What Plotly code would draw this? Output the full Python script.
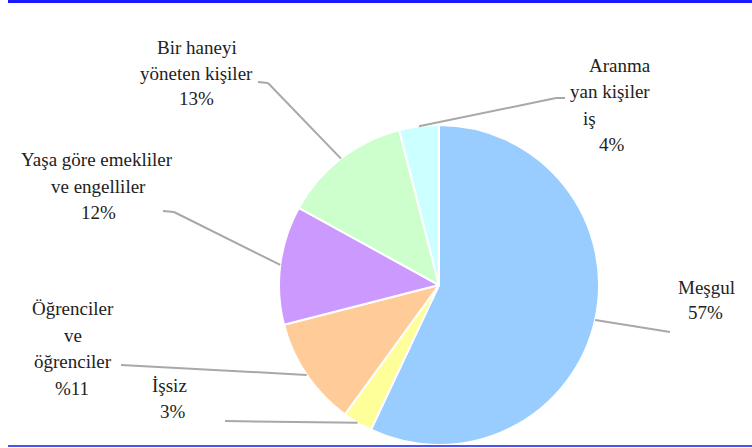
import math
import plotly.graph_objects as go

# ---- data ----
categories = ["Meşgul", "İşsiz", "Öğrenciler ve öğrenciler",
              "Yaşa göre emekliler ve engelliler", "Bir haneyi yöneten kişiler",
              "Aranma yan kişiler iş"]
values = [57, 3, 11, 12, 13, 4]
label_lines = [
    ["Meşgul", "57%"],
    ["İşsiz", "3%"],
    ["Öğrenciler", "ve", "öğrenciler", "%11"],
    ["Yaşa göre emekliler", "ve engelliler", "12%"],
    ["Bir haneyi", "yöneten kişiler", "13%"],
    ["Aranma", "yan kişiler", "iş", "4%"],
]
colors = ["#99CCFF", "#FFFF99", "#FFCC99", "#CC99FF", "#CCFFCC", "#CCFFFF"]

# ---- layout constants (pixels) ----
W, H = 752, 448
CX, CY, R = 439, 285, 160
label_pos = [
    [(706, 287), (705, 312)],
    [(169, 385), (173, 411)],
    [(73, 308), (73, 335), (73, 361), (72, 388)],
    [(97, 159), (98, 186), (99, 212)],
    [(197, 47), (196, 73), (196, 99)],
    [(620, 65), (610, 92), (589, 118), (612, 144)],
]
leader_pts = [
    [(670, 332)],
    [(225, 421)],
    [(121, 365)],
    [(163, 211), (174, 212)],
    [(258, 82), (268, 83)],
    [(565, 98), (556, 98)],
]
FONT = "Times New Roman, Liberation Serif, DejaVu Serif, serif"

def px(x):
    return x / W

def py(y):
    return 1 - y / H

fig = go.Figure()
fig.add_trace(go.Pie(
    labels=categories, values=values, sort=False, direction="clockwise",
    rotation=0, textinfo="none", hoverinfo="label+percent",
    marker=dict(colors=colors, line=dict(color="white", width=2)),
    domain=dict(x=[px(CX - R), px(CX + R)], y=[py(CY + R), py(CY - R)]),
    showlegend=False,
))

annotations = []
shapes = []
total = sum(values)
cum = 0
for i, v in enumerate(values):
    mid = (cum + v / 2) / total
    cum += v
    th = 2 * math.pi * mid
    ax = CX + R * math.sin(th)
    ay = CY - R * math.cos(th)
    pts = leader_pts[i] + [(ax, ay)]
    for (x0, y0), (x1, y1) in zip(pts[:-1], pts[1:]):
        shapes.append(dict(type="line", xref="paper", yref="paper",
                           x0=px(x0), y0=py(y0), x1=px(x1), y1=py(y1),
                           line=dict(color="#a8a8a8", width=2)))
    for txt, (lx, ly) in zip(label_lines[i], label_pos[i]):
        annotations.append(dict(text=txt, x=px(lx), y=py(ly), xref="paper", yref="paper",
                                showarrow=False, xanchor="center", yanchor="middle",
                                font=dict(family=FONT, size=19, color="#222222")))

# frame lines
shapes.append(dict(type="line", xref="paper", yref="paper", x0=px(8), x1=1, y0=py(1.5), y1=py(1.5),
                   line=dict(color="#1a1aff", width=3)))
shapes.append(dict(type="line", xref="paper", yref="paper", x0=px(8), x1=1, y0=py(446), y1=py(446),
                   line=dict(color="#5050ee", width=2)))

fig.update_layout(
    width=W, height=H, margin=dict(l=0, r=0, t=0, b=0),
    paper_bgcolor="white", plot_bgcolor="white",
    font=dict(family=FONT),
    annotations=annotations, shapes=shapes,
)
fig.write_html("out.html", config={"displayModeBar": False},
               post_script="document.body.style.margin='0';document.body.style.overflow='hidden';")
